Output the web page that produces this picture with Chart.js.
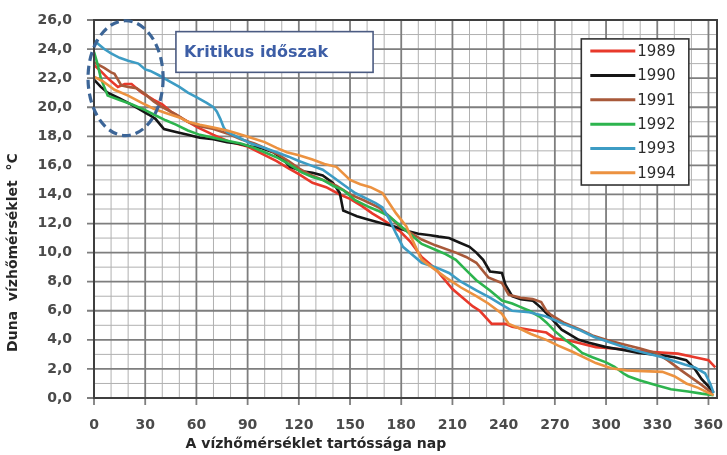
<!DOCTYPE html>
<html>
<head>
<meta charset="utf-8">
<script src="https://cdn.jsdelivr.net/npm/chart.js@4/dist/chart.umd.min.js"></script>
</head>
<body style="margin:0">
<canvas id="c" width="727" height="455"></canvas>
<script>
// ---- Data ----
const seriesLabels = ['1989', '1990', '1991', '1992', '1993', '1994'];
const seriesColors = ['#e8392b', '#151515', '#a8593a', '#2db44e', '#3d9cc4', '#ec9240'];

const days1989 = [0,3,8,14,18,22,28,35,40,45,52,61,70,80,90,100,107,114,120,128,136,144,150,157,163,170,179,185,192,200,210,216,222,226,233,241,245,255,265,270,280,294,310,323,342,352,360,364];
const temp1989 = [22.9,22.6,22.0,21.4,21.6,21.6,21.0,20.5,20.2,19.7,19.2,18.6,18.1,17.6,17.3,16.7,16.3,15.8,15.4,14.8,14.5,14.0,13.7,13.2,12.7,12.2,11.5,10.8,9.7,8.9,7.5,6.9,6.3,6.0,5.1,5.1,4.9,4.7,4.5,4.1,3.9,3.5,3.35,3.2,3.05,2.8,2.6,2.1];

const days1990 = [0,4,8,15,20,26,32,36,41,48,55,62,70,78,84,92,98,105,110,115,122,128,134,140,144,146,150,154,160,169,176,183,190,197,202,208,214,220,224,228,232,239,241,245,250,257,262,267,274,284,290,300,310,319,332,340,347,352,356,360,363];
const temp1990 = [21.9,21.4,21.0,20.6,20.3,19.9,19.5,19.2,18.5,18.3,18.1,17.9,17.8,17.6,17.5,17.3,17.2,16.9,16.5,15.9,15.6,15.5,15.3,14.8,14.1,12.9,12.7,12.5,12.3,12.0,11.8,11.5,11.3,11.2,11.1,11.0,10.7,10.4,10.0,9.5,8.7,8.6,7.8,7.0,6.8,6.7,6.2,5.6,4.7,4.0,3.8,3.5,3.3,3.1,2.95,2.8,2.6,2.0,1.3,0.8,0.35];

const days1991 = [0,3,6,10,12,16,20,25,30,35,40,48,55,62,70,78,86,94,100,107,114,120,126,134,142,150,158,167,172,179,185,192,200,212,218,224,231,239,243,250,257,262,265,268,275,285,292,300,310,320,329,336,344,350,356,362];
const temp1991 = [23.1,22.9,22.7,22.4,22.3,21.5,21.4,21.3,20.9,20.4,20.0,19.5,19.0,18.7,18.5,18.2,17.8,17.5,17.2,16.8,16.3,15.8,15.4,15.0,14.6,14.0,13.6,13.1,12.6,11.8,11.4,10.9,10.5,10.0,9.7,9.3,8.3,7.9,7.1,6.9,6.8,6.6,6.0,5.7,5.2,4.7,4.3,4.0,3.7,3.4,3.1,2.6,1.9,1.4,0.9,0.35];

const days1992 = [0,2,4,6,8,15,22,30,35,42,48,55,62,70,78,86,94,100,108,114,122,128,134,140,146,153,160,166,173,180,186,192,200,206,212,218,224,232,239,245,249,255,261,265,270,276,282,286,292,300,305,310,313,320,329,338,348,356,363];
const temp1992 = [23.8,23.0,22.0,21.4,20.8,20.5,20.2,19.8,19.5,19.1,18.8,18.4,18.1,17.9,17.7,17.5,17.2,16.9,16.5,16.1,15.5,15.2,15.0,14.6,14.3,13.6,13.2,12.9,12.5,11.8,11.2,10.6,10.2,9.9,9.5,8.8,8.1,7.4,6.7,6.5,6.3,6.0,5.6,5.2,4.6,4.0,3.5,3.1,2.8,2.45,2.15,1.7,1.5,1.2,0.9,0.6,0.45,0.3,0.2];

const days1993 = [0,3,6,10,15,20,26,30,33,38,44,50,55,60,66,70,72,74,76,78,85,92,100,107,114,120,127,134,140,147,153,160,165,169,173,177,181,186,192,200,208,215,224,232,239,245,255,265,275,284,293,303,313,323,333,346,352,358,361,363];
const temp1993 = [24.6,24.3,24.0,23.7,23.4,23.2,23.0,22.6,22.5,22.2,21.8,21.4,21.0,20.7,20.3,20.0,19.7,19.2,18.6,18.3,17.9,17.5,17.2,16.9,16.6,16.3,16.0,15.7,15.2,14.6,14.1,13.7,13.4,13.1,12.3,11.3,10.4,9.9,9.3,9.0,8.6,8.0,7.4,6.9,6.4,6.0,5.9,5.6,5.1,4.7,4.2,3.8,3.4,3.1,2.8,2.3,2.1,1.7,1.0,0.35];

const days1994 = [0,5,12,20,28,35,42,50,55,62,70,78,84,92,100,107,113,120,128,135,142,150,156,162,169,173,177,183,188,192,199,206,215,224,231,239,243,249,256,265,272,280,294,303,312,322,333,340,347,354,360,363];
const temp1994 = [22.1,21.8,21.2,20.8,20.3,19.9,19.6,19.3,19.0,18.8,18.6,18.4,18.2,17.9,17.6,17.2,16.9,16.7,16.4,16.1,15.9,15.0,14.7,14.5,14.1,13.4,12.7,11.8,10.5,9.5,8.9,8.3,7.6,7.0,6.5,5.8,5.1,4.8,4.4,4.0,3.6,3.2,2.4,2.05,1.9,1.85,1.8,1.5,1.0,0.7,0.35,0.2];

const allDays = [days1989, days1990, days1991, days1992, days1993, days1994];
const allTemps = [temp1989, temp1990, temp1991, temp1992, temp1993, temp1994];

// Axis ticks
const xTickLabels = [0, 30, 60, 90, 120, 150, 180, 210, 240, 270, 300, 330, 360];
const yTickLabels = [0, 2, 4, 6, 8, 10, 12, 14, 16, 18, 20, 22, 24, 26];
const xMinorStep = 10;
const yMinorStep = 1;
const xMax = 365;
const yMax = 26;

// Texts
const xTitle = 'A vízhőmérséklet tartóssága nap';
const yTitle = 'Duna  vízhőmérséklet  °C';
const calloutText = 'Kritikus időszak';

// ---- Grid built as line segments in data units, drawn through the scales ----
function gridSegments(tickExtX, tickExtY) {
  const minorV = [], minorH = [], majorV = [], majorH = [];
  for (let v = 0; v <= xTickLabels[xTickLabels.length - 1]; v += xMinorStep) {
    if (xTickLabels.indexOf(v) >= 0) majorV.push({ x: v, y: -tickExtY }, { x: v, y: yMax }, { x: v, y: null });
    else minorV.push({ x: v, y: 0 }, { x: v, y: yMax }, { x: v, y: null });
  }
  for (let v = 0; v <= yMax; v += yMinorStep) {
    if (yTickLabels.indexOf(v) >= 0) majorH.push({ x: -tickExtX, y: v }, { x: xMax, y: v }, { x: xMax, y: null });
    else minorH.push({ x: 0, y: v }, { x: xMax, y: v }, { x: xMax, y: null });
  }
  return { minor: minorV.concat(minorH), major: majorV.concat(majorH) };
}
const g0 = gridSegments(0, 0);
const gridBase = { pointRadius: 0, tension: 0, spanGaps: false, clip: false, borderCapStyle: 'butt', isGrid: true };

const datasets = [
  Object.assign({ label: '_minor', data: g0.minor, borderColor: '#b0b0b0', borderWidth: 1, order: 20 }, gridBase),
  Object.assign({ label: '_major', data: g0.major, borderColor: '#7e7e7e', borderWidth: 1.8, order: 19 }, gridBase)
].concat(seriesLabels.map((lab, i) => ({
  label: lab,
  data: allDays[i].map((d, j) => ({ x: d, y: allTemps[i][j] })),
  borderColor: seriesColors[i],
  borderWidth: 2.6,
  pointRadius: 0,
  tension: 0,
  order: seriesLabels.length - i
})));

const overlay = {
  id: 'overlay',
  afterDatasetsDraw(chart) {
    const { ctx, chartArea: a } = chart;
    const xs = chart.scales.x, ys = chart.scales.y;

    // frame
    ctx.save();
    ctx.strokeStyle = '#3f3f3f';
    ctx.lineWidth = 2;
    ctx.strokeRect(a.left, a.top, a.right - a.left, a.bottom - a.top);
    ctx.restore();

    // dashed ellipse around the critical period (data units)
    const cx = xs.getPixelForValue(18.5), cy = ys.getPixelForValue(22.0);
    const rx = xs.getPixelForValue(18.5 + 22) - cx;
    const ry = ys.getPixelForValue(22.0) - ys.getPixelForValue(22.0 + 3.95);
    ctx.save();
    ctx.beginPath();
    ctx.ellipse(cx, cy, rx, ry, 0, 0, Math.PI * 2);
    ctx.setLineDash([9, 5]);
    ctx.lineWidth = 3.2;
    ctx.strokeStyle = '#3c6597';
    ctx.stroke();
    ctx.restore();

    // callout box
    const bx1 = xs.getPixelForValue(48), bx2 = xs.getPixelForValue(163.5);
    const by1 = ys.getPixelForValue(25.2), by2 = ys.getPixelForValue(22.4);
    ctx.save();
    ctx.fillStyle = '#ffffff';
    ctx.fillRect(bx1, by1, bx2 - bx1, by2 - by1);
    ctx.strokeStyle = '#4b5b82';
    ctx.lineWidth = 1.6;
    ctx.strokeRect(bx1, by1, bx2 - bx1, by2 - by1);
    ctx.fillStyle = '#3d5ea6';
    ctx.font = 'bold 16px "DejaVu Sans"';
    ctx.textAlign = 'left';
    ctx.textBaseline = 'middle';
    ctx.fillText(calloutText, bx1 + 8, (by1 + by2) / 2 + 1);
    ctx.restore();

    // legend
    const lx1 = xs.getPixelForValue(285.5), lx2 = xs.getPixelForValue(348.5);
    const ly1 = ys.getPixelForValue(24.7), ly2 = ys.getPixelForValue(14.65);
    ctx.save();
    ctx.fillStyle = '#ffffff';
    ctx.fillRect(lx1, ly1, lx2 - lx1, ly2 - ly1);
    ctx.strokeStyle = '#333333';
    ctx.lineWidth = 1.6;
    ctx.strokeRect(lx1, ly1, lx2 - lx1, ly2 - ly1);
    const rowH = (ly2 - ly1) / seriesLabels.length;
    ctx.font = '15px "DejaVu Sans"';
    ctx.textAlign = 'left';
    ctx.textBaseline = 'middle';
    const series = chart.data.datasets.filter(ds => !ds.isGrid);
    series.forEach((ds, i) => {
      const yy = ly1 + rowH * (i + 0.5);
      ctx.strokeStyle = ds.borderColor;
      ctx.lineWidth = 3;
      ctx.beginPath();
      ctx.moveTo(lx1 + 9, yy);
      ctx.lineTo(lx1 + 54, yy);
      ctx.stroke();
      ctx.fillStyle = '#2b2b2b';
      ctx.fillText(ds.label, lx1 + 56, yy + 1);
    });
    ctx.restore();
  },
  afterDraw(chart) {
    const { ctx } = chart;
    const xs = chart.scales.x, ys = chart.scales.y;
    ctx.save();
    ctx.fillStyle = '#262626';
    ctx.font = 'bold 14px "DejaVu Sans"';
    ctx.textAlign = 'center';
    ctx.textBaseline = 'middle';
    ctx.fillText(xTitle, xs.getPixelForValue(130), 444);
    ctx.translate(13, ys.getPixelForValue(10));
    ctx.rotate(-Math.PI / 2);
    ctx.fillText(yTitle, 0, 0);
    ctx.restore();
  }
};

const chart = new Chart(document.getElementById('c'), {
  type: 'line',
  data: { datasets },
  plugins: [overlay],
  options: {
    responsive: false,
    animation: false,
    layout: { padding: { top: 20, right: 10, left: 0, bottom: 0 } },
    plugins: { legend: { display: false }, tooltip: { enabled: false } },
    scales: {
      x: {
        type: 'linear',
        min: 0,
        max: xMax,
        afterBuildTicks(scale) { scale.ticks = xTickLabels.map(v => ({ value: v })); },
        afterFit(scale) { scale.height = 57; scale.paddingLeft = 0; scale.paddingRight = 0; },
        ticks: {
          autoSkip: false,
          maxRotation: 0,
          padding: 12,
          color: '#4a4a4a',
          font: { family: 'DejaVu Sans', size: 14, weight: 'bold' },
          callback: v => String(v)
        },
        grid: { display: false, drawTicks: true, tickLength: 7 },
        border: { display: false }
      },
      y: {
        type: 'linear',
        min: 0,
        max: yMax,
        afterBuildTicks(scale) { scale.ticks = yTickLabels.map(v => ({ value: v })); },
        afterFit(scale) { scale.width = 94; scale.paddingTop = 0; scale.paddingBottom = 0; },
        ticks: {
          autoSkip: false,
          padding: 15,
          color: '#4a4a4a',
          font: { family: 'DejaVu Sans', size: 14, weight: 'bold' },
          callback: v => v.toFixed(1).replace('.', ',')
        },
        grid: { display: false, drawTicks: true, tickLength: 7 },
        border: { display: false }
      }
    }
  }
});

// extend major grid lines outward as tick marks (7 px converted to data units through the scales)
(function () {
  const xs = chart.scales.x, ys = chart.scales.y, a = chart.chartArea;
  const extX = xs.getValueForPixel(a.left) - xs.getValueForPixel(a.left - 7);
  const extY = ys.getValueForPixel(a.bottom) - ys.getValueForPixel(a.bottom + 7);
  const g = gridSegments(extX, extY);
  chart.data.datasets[0].data = g.minor;
  chart.data.datasets[1].data = g.major;
  chart.update('none');
})();
</script>
</body>
</html>
